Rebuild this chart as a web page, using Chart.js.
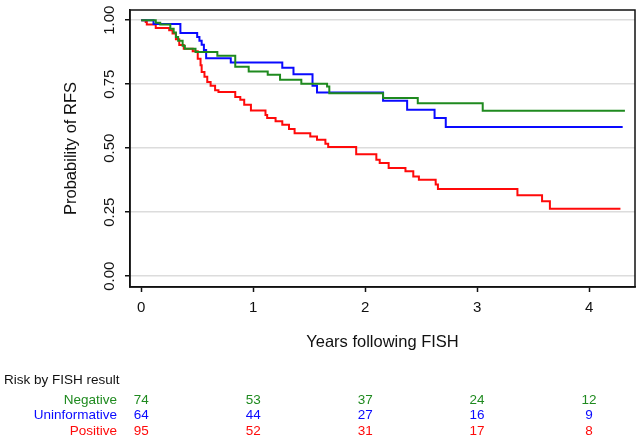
<!DOCTYPE html>
<html>
<head>
<meta charset="utf-8">
<script src="https://cdn.jsdelivr.net/npm/chart.js@4"></script>
<style>
  html, body { margin: 0; padding: 0; background: #fff; }
  #wrap { width: 641px; height: 441px; position: relative; }
</style>
</head>
<body>
<div id="wrap"><canvas id="kmChart"></canvas></div>
<script>
// ─── DATA ──────────────────────────────────────────────────
const negTimes = [0, 0.13, 0.17, 0.26, 0.29, 0.31, 0.33, 0.37, 0.39, 0.485, 0.68, 0.84, 0.96, 1.13, 1.24, 1.43, 1.66, 1.68, 2.16, 2.47, 3.05, 4.32];
const negSurv  = [1, 0.99, 0.983, 0.967, 0.952, 0.935, 0.92, 0.90, 0.889, 0.876, 0.861, 0.818, 0.80, 0.787, 0.768, 0.752, 0.741, 0.715, 0.696, 0.676, 0.646, 0.646];

const uninfTimes = [0, 0.11, 0.35, 0.50, 0.52, 0.54, 0.56, 0.58, 0.80, 1.26, 1.36, 1.53, 1.57, 2.16, 2.375, 2.62, 2.72, 4.30];
const uninfSurv  = [1, 0.985, 0.95, 0.935, 0.92, 0.904, 0.884, 0.852, 0.835, 0.814, 0.789, 0.744, 0.718, 0.686, 0.650, 0.618, 0.583, 0.583];

const posTimes = [0, 0.04, 0.05, 0.13, 0.25, 0.28, 0.31, 0.34, 0.38, 0.46, 0.505, 0.53, 0.54, 0.565, 0.59, 0.62, 0.66, 0.69, 0.84, 0.885, 0.92, 0.98,
                  1.11, 1.125, 1.20, 1.26, 1.32, 1.37, 1.51, 1.57, 1.645, 1.67, 1.92, 2.10, 2.13, 2.21, 2.36, 2.43, 2.48, 2.63, 2.65, 3.36, 3.58, 3.65, 4.28];
const posSurv  = [1, 0.993, 0.983, 0.97, 0.961, 0.948, 0.926, 0.903, 0.889, 0.879, 0.85, 0.824, 0.798, 0.779, 0.759, 0.744, 0.727, 0.72, 0.70, 0.689, 0.67, 0.647,
                  0.63, 0.618, 0.605, 0.592, 0.575, 0.559, 0.546, 0.533, 0.518, 0.505, 0.477, 0.455, 0.442, 0.423, 0.41, 0.39, 0.377, 0.358, 0.341, 0.316, 0.293, 0.264, 0.264];

const xTicks = [0, 1, 2, 3, 4];
const yTicks = [0, 0.25, 0.5, 0.75, 1];

const riskTimes  = [0, 1, 2, 3, 4];
const riskGroups = ['Negative', 'Uninformative', 'Positive'];
const riskNeg    = [74, 53, 37, 24, 12];
const riskUninf  = [64, 44, 27, 16, 9];
const riskPos    = [95, 52, 31, 17, 8];

const GREEN = '#1f8a1f';
const BLUE  = '#0a0aff';
const RED   = '#ff0a0a';
const FONT  = "'Liberation Sans', Arial, sans-serif";

// ─── HELPERS ───────────────────────────────────────────────
function toPoints(times, surv) {
  return times.map((t, i) => ({ x: t, y: surv[i] }));
}

function curve(label, times, surv, colour) {
  return {
    label,
    data: toPoints(times, surv),
    borderColor: colour,
    borderWidth: 2,
    pointRadius: 0,
    fill: false,
    stepped: 'before',
  };
}

// frame around the plot region (top + right sides)
const frame = {
  id: 'frame',
  afterDatasetsDraw(chart) {
    const { ctx, chartArea: a } = chart;
    ctx.save();
    ctx.strokeStyle = '#111';
    ctx.lineWidth = 1.5;
    ctx.strokeRect(a.left, a.top, a.right - a.left, a.bottom - a.top);
    ctx.restore();
  },
};

// number-at-risk table underneath
const riskTable = {
  id: 'riskTable',
  afterDraw(chart) {
    const { ctx } = chart;
    const xs = chart.scales.x;
    const rows = [
      { name: riskGroups[0], vals: riskNeg,   colour: GREEN, y: 400 },
      { name: riskGroups[1], vals: riskUninf, colour: BLUE,  y: 415 },
      { name: riskGroups[2], vals: riskPos,   colour: RED,   y: 431 },
    ];
    ctx.save();
    ctx.font = `13.5px ${FONT}`;
    ctx.textBaseline = 'middle';
    ctx.fillStyle = '#111';
    ctx.textAlign = 'left';
    ctx.fillText('Risk by FISH result', 4, 380);
    rows.forEach(r => {
      ctx.fillStyle = r.colour;
      ctx.textAlign = 'right';
      ctx.fillText(r.name, 117, r.y);
      ctx.textAlign = 'center';
      r.vals.forEach((v, i) => ctx.fillText(String(v), xs.getPixelForValue(riskTimes[i]), r.y));
    });
    ctx.restore();
  },
};

// ─── CHART ─────────────────────────────────────────────────
new Chart(document.getElementById('kmChart'), {
  type: 'line',
  data: {
    datasets: [
      curve('Negative', negTimes, negSurv, GREEN),
      curve('Uninformative', uninfTimes, uninfSurv, BLUE),
      curve('Positive', posTimes, posSurv, RED),
    ],
  },
  options: {
    responsive: true,
    maintainAspectRatio: false,
    animation: false,
    layout: { padding: { top: 10, right: 6, left: 0, bottom: 0 } },
    plugins: { legend: { display: false }, tooltip: { enabled: false } },
    scales: {
      x: {
        type: 'linear',
        min: -0.1,
        max: 4.41,
        afterBuildTicks: s => { s.ticks = xTicks.map(v => ({ value: v })); },
        afterFit: s => { s.height = 154; },
        grid: { drawOnChartArea: false, drawTicks: true, tickLength: 5, color: '#111', tickWidth: 1.5 },
        border: { color: '#111', width: 1.5 },
        ticks: { color: '#111', font: { family: FONT, size: 15 }, padding: 7 },
        title: {
          display: true,
          text: 'Years following FISH',
          color: '#111',
          font: { family: FONT, size: 16.5 },
          padding: { top: 0, bottom: 89 },
        },
      },
      y: {
        type: 'linear',
        min: -0.042,
        max: 1.04,
        afterBuildTicks: s => { s.ticks = yTicks.map(v => ({ value: v })); },
        afterFit: s => { s.width = 130; },
        grid: { color: '#dcdcdc', lineWidth: 1.5, drawTicks: true, tickLength: 5, tickColor: '#111', tickWidth: 1.5 },
        border: { color: '#111', width: 1.5 },
        ticks: {
          color: '#111',
          font: { family: FONT, size: 15 },
          minRotation: 90,
          maxRotation: 90,
          crossAlign: 'center',
          padding: 1,
          callback: v => v.toFixed(2),
        },
        title: {
          display: true,
          text: 'Probability of RFS',
          color: '#111',
          font: { family: FONT, size: 16.5 },
          padding: { top: 62, bottom: 0 },
        },
      },
    },
  },
  plugins: [frame, riskTable],
});
</script>
</body>
</html>
